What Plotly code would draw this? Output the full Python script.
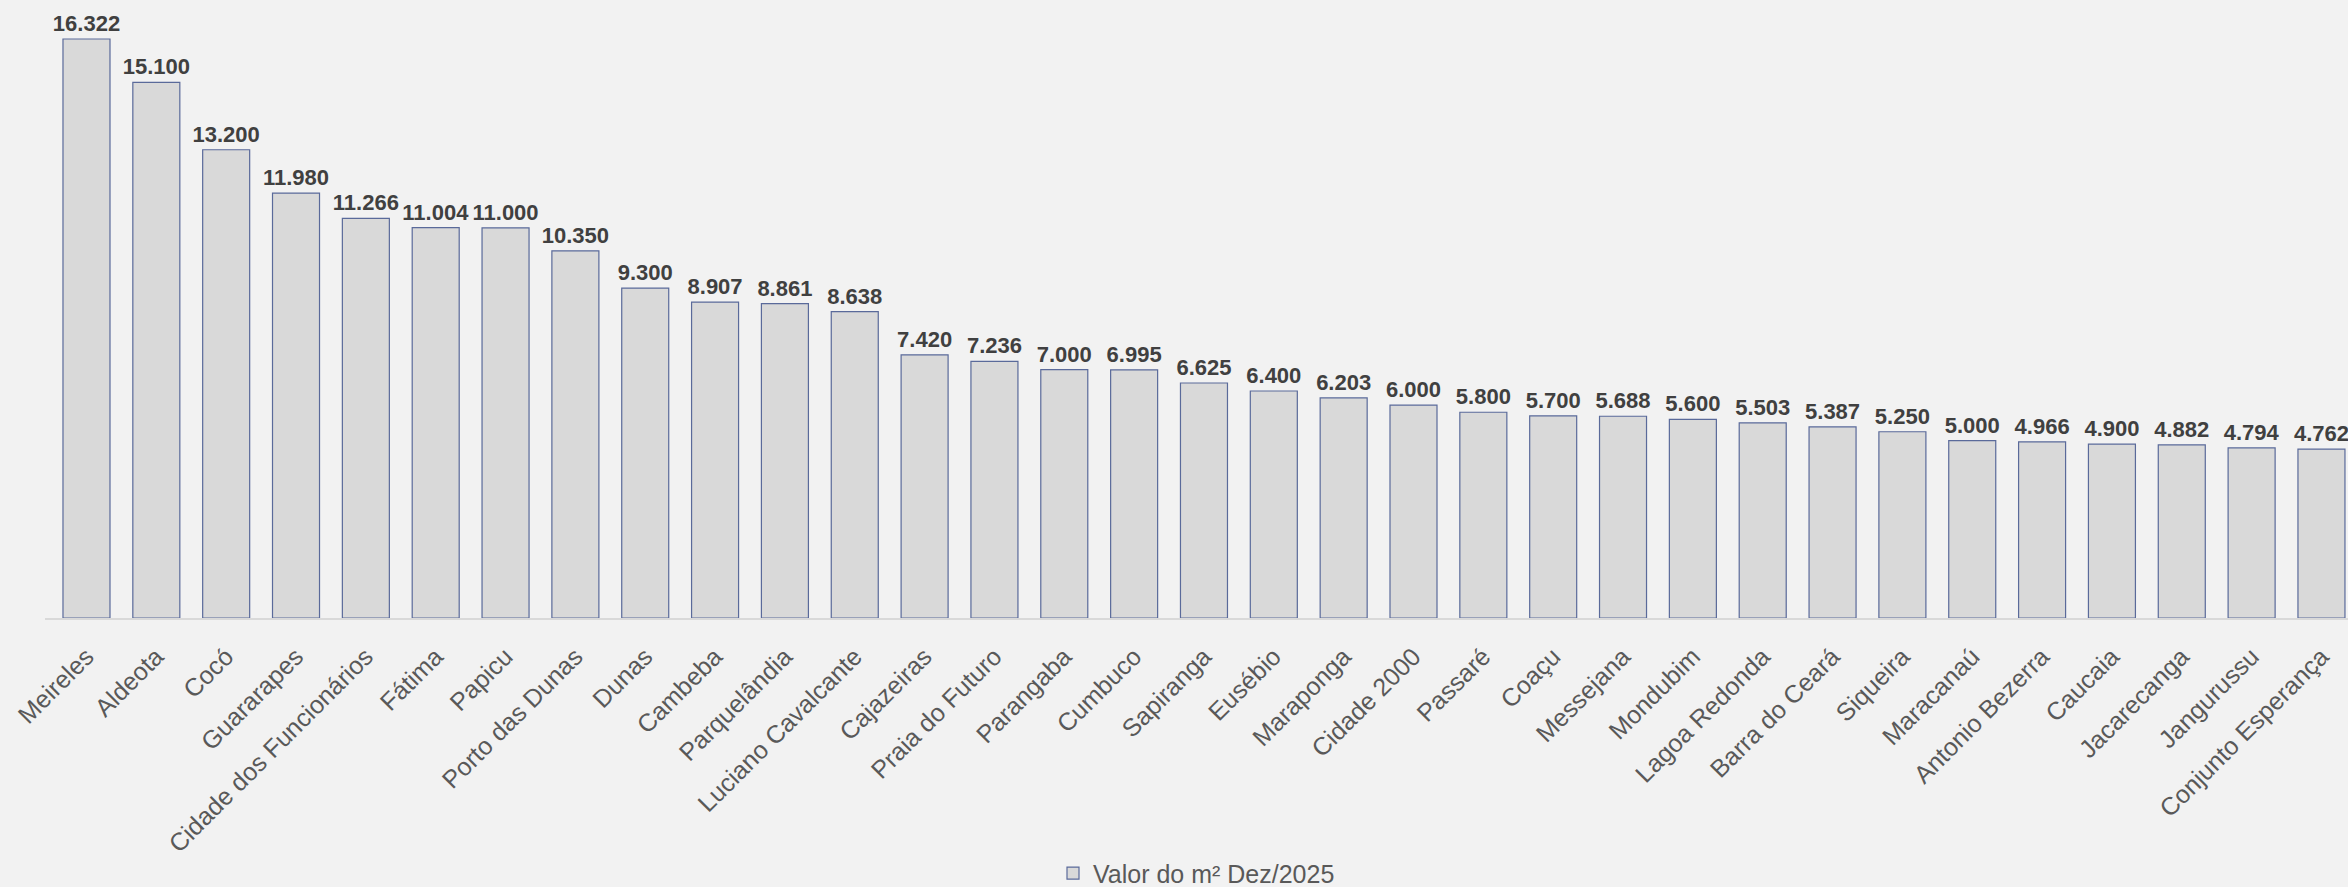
import plotly.graph_objects as go

bairros = ["Meireles", "Aldeota", "Cocó", "Guararapes", "Cidade dos Funcionários", "Fátima",
           "Papicu", "Porto das Dunas", "Dunas", "Cambeba", "Parquelândia", "Luciano Cavalcante",
           "Cajazeiras", "Praia do Futuro", "Parangaba", "Cumbuco", "Sapiranga", "Eusébio",
           "Maraponga", "Cidade 2000", "Passaré", "Coaçu", "Messejana", "Mondubim",
           "Lagoa Redonda", "Barra do Ceará", "Siqueira", "Maracanaú", "Antonio Bezerra",
           "Caucaia", "Jacarecanga", "Jangurussu", "Conjunto Esperança"]
valores = [16322, 15100, 13200, 11980, 11266, 11004, 11000, 10350, 9300, 8907, 8861, 8638,
           7420, 7236, 7000, 6995, 6625, 6400, 6203, 6000, 5800, 5700, 5688, 5600,
           5503, 5387, 5250, 5000, 4966, 4900, 4882, 4794, 4762]
serie = "Valor do m² Dez/2025"

fig = go.Figure()
fig.add_trace(go.Bar(
    x=list(range(len(bairros))), y=valores, name=serie,
    marker=dict(color="#d9d9d9", line=dict(color="#5a6a9a", width=1.2)),
    texttemplate="%{y:,.0f}", textposition="outside", cliponaxis=False,
    constraintext="none",
    textfont=dict(family="Liberation Sans, Arial", size=22, color="#404040", weight="bold"),
    showlegend=True,
))
fig.update_layout(
    width=2348, height=887,
    paper_bgcolor="#f2f2f2", plot_bgcolor="#f2f2f2",
    separators=",.",
    margin=dict(l=45, r=0, t=10, b=269, autoexpand=False),
    bargap=0.327,
    uniformtext=dict(minsize=22, mode="show"),
    font=dict(family="Liberation Sans, Arial", color="#595959"),
    xaxis=dict(
        tickmode="array", tickvals=list(range(len(bairros))), ticktext=bairros,
        range=[-0.594, 32.38], tickangle=-45, automargin=False,
        tickfont=dict(size=25, color="#595959"), ticklabelstandoff=12,
        showline=True, linecolor="#d9d9d9", linewidth=2, showgrid=False, ticks="",
        zeroline=False,
    ),
    yaxis=dict(range=[0, 17140], visible=False, showgrid=False, zeroline=False,
               automargin=False),
    legend=dict(orientation="h", x=0.5, xanchor="center", y=-0.42, yanchor="middle",
                font=dict(size=25, color="#595959"), bgcolor="rgba(0,0,0,0)"),
)
fig.write_html("out.html")
